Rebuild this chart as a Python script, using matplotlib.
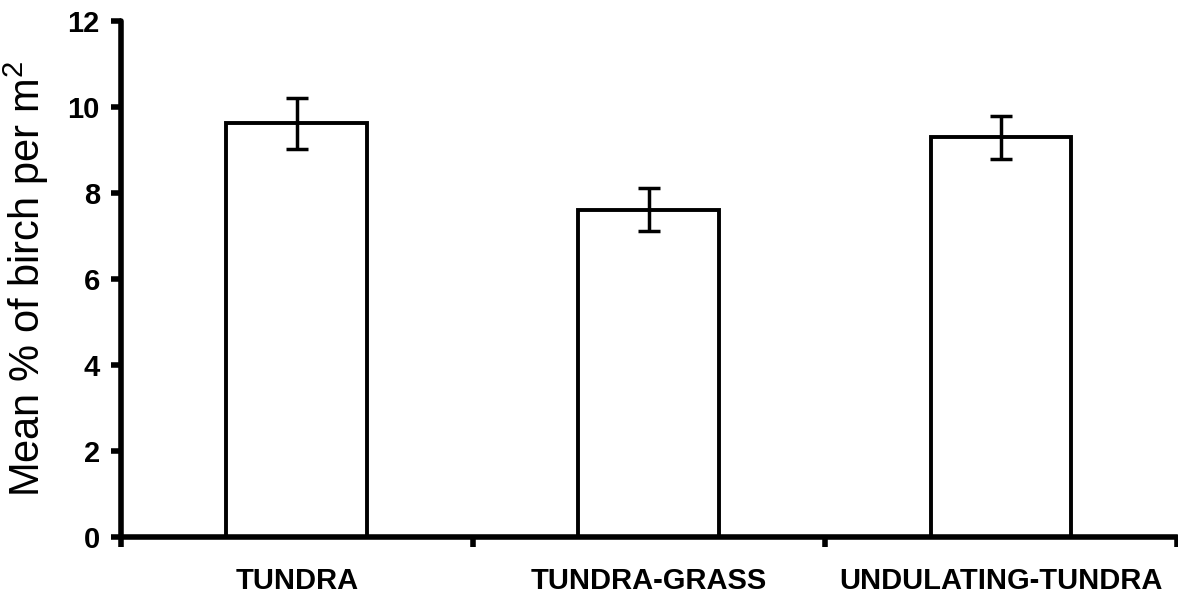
import matplotlib
matplotlib.use("Agg")
import matplotlib.pyplot as plt
import numpy as np

categories = ["TUNDRA", "TUNDRA-GRASS", "UNDULATING-TUNDRA"]
means = [9.62, 7.61, 9.29]
errors = [0.60, 0.50, 0.50]
yticks = [0, 2, 4, 6, 8, 10, 12]

plt.rcParams['font.family'] = ['Liberation Sans', 'DejaVu Sans']
plt.rcParams['mathtext.fontset'] = 'custom'
plt.rcParams['mathtext.rm'] = 'Liberation Sans'
plt.rcParams['mathtext.it'] = 'Liberation Sans:italic'
plt.rcParams['mathtext.bf'] = 'Liberation Sans:bold'

fig = plt.figure(figsize=(11.78, 5.97), dpi=100)
ax = fig.add_axes([0.10246, 0.101, 0.99915 - 0.10246, 0.9648 - 0.101])

x = np.arange(len(categories))
ax.bar(x, means, width=0.40, color='white', edgecolor='black', linewidth=2.8, zorder=2)
ax.errorbar(x, means, yerr=errors, fmt='none', ecolor='black', elinewidth=2.5,
            capsize=8, capthick=2.5, zorder=3)

ax.set_xlim(-0.5, len(categories) - 0.5)
ax.set_ylim(0, 12)

for s in ['top', 'right']:
    ax.spines[s].set_visible(False)
for s in ['left', 'bottom']:
    ax.spines[s].set_linewidth(4)
    ax.spines[s].set_capstyle('round')

ax.set_yticks(yticks)
ax.set_yticklabels([str(v) for v in yticks], fontsize=21, fontweight='bold')
ax.tick_params(axis='y', direction='out', length=7, width=4, pad=8)

ax.set_xticks(np.arange(-0.5, len(categories), 1.0))
ax.set_xticklabels([])
ax.tick_params(axis='x', which='major', direction='out', length=7, width=4)
ax.set_xticks(x, minor=True)
ax.set_xticklabels(categories, minor=True, fontsize=21, fontweight='bold')
ax.tick_params(axis='x', which='minor', length=0, pad=22)

for t in ax.xaxis.get_majorticklines() + ax.yaxis.get_majorticklines():
    t.set_solid_capstyle('round')

ax.set_ylabel("Mean % of birch per m$^2$", fontsize=30, labelpad=12)

fig.savefig("out.png", dpi=100)
